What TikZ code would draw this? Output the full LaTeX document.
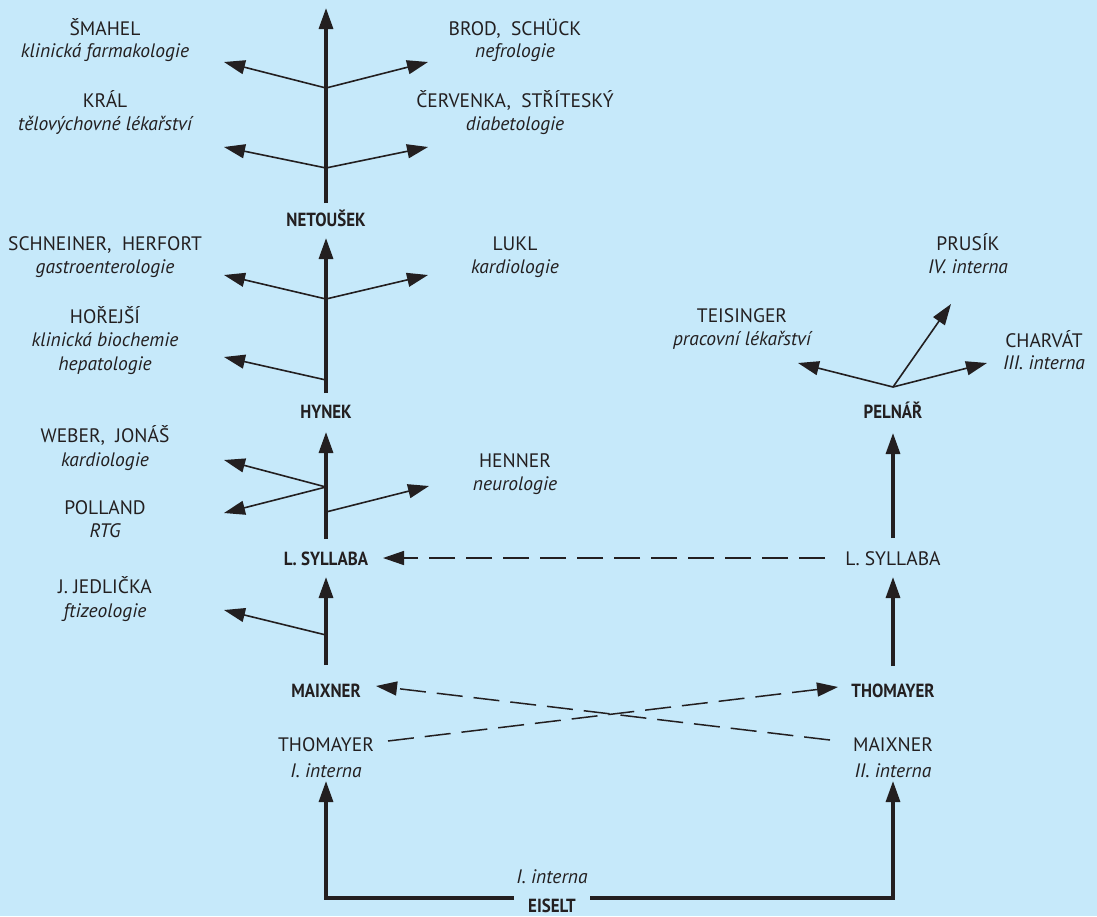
\documentclass[tikz,border=0pt]{standalone}
\usepackage{fontspec}
\setmainfont{PT Sans}
\newfontfamily\condfont[FakeStretch=0.89]{PT Sans}
\usetikzlibrary{arrows.meta}
\definecolor{bg}{RGB}{198,233,250}
\definecolor{ink}{RGB}{35,31,32}
\begin{document}
\begin{tikzpicture}[x=1pt,y=-1pt,
  every node/.style={inner sep=0pt,anchor=base,text=ink,font=\fontsize{19.5}{22}\selectfont},
  nm/.style={},
  sub/.style={font=\fontsize{19.5}{22}\selectfont\itshape},
  bnm/.style={font=\fontsize{19}{22}\selectfont\condfont\bfseries},
  tip/.style={-{Triangle[length=21pt,width=14pt]}},
  spine/.style={tip,line width=3.2pt,draw=ink,color=ink},
  branch/.style={tip,line width=1.6pt,draw=ink,color=ink},
  dashar/.style={tip,line width=1.5pt,draw=ink,color=ink,dash pattern=on 26pt off 11pt},
  trunk/.style={tip,line width=3.2pt,draw=ink,color=ink}
]
\useasboundingbox (0,0) rectangle (1097,916);
\fill[bg] (0,0) rectangle (1097,916);

% ---- labels, left tree ----
\node[nm]  (smahel)  at (105,35)  {ŠMAHEL};
\node[sub] (smahelS) at (105,57)  {klinická farmakologie};
\node[nm]  (kral)    at (105,107) {KRÁL};
\node[sub] (kralS)   at (105,130) {tělovýchovné lékařství};
\node[nm]  (brod)    at (515,35)  {BROD,\ \ SCHÜCK};
\node[sub] (brodS)   at (515,57)  {nefrologie};
\node[nm]  (cerv)    at (515,107) {ČERVENKA,\ \ STŘÍTESKÝ};
\node[sub] (cervS)   at (515,130) {diabetologie};
\node[bnm] (netousek) at (326,226) {NETOUŠEK};
\node[nm]  (schn)    at (105,250) {SCHNEINER,\ \ HERFORT};
\node[sub] (schnS)   at (105,273) {gastroenterologie};
\node[nm]  (lukl)    at (515,250) {LUKL};
\node[sub] (luklS)   at (515,273) {kardiologie};
\node[nm]  (horejsi) at (105,323) {HOŘEJŠÍ};
\node[sub] (horS1)   at (105,346) {klinická biochemie};
\node[sub] (horS2)   at (105,370) {hepatologie};
\node[bnm] (hynek)   at (326,418) {HYNEK};
\node[nm]  (weber)   at (105,442) {WEBER,\ \ JONÁŠ};
\node[sub] (weberS)  at (105,466) {kardiologie};
\node[nm]  (polland) at (105,514) {POLLAND};
\node[sub] (pollandS) at (105,537) {RTG};
\node[nm]  (henner)  at (515,467) {HENNER};
\node[sub] (hennerS) at (515,490) {neurologie};
\node[bnm] (lsylB)   at (326,565) {L. SYLLABA};
\node[nm]  (jedl)    at (105,593) {J. JEDLIČKA};
\node[sub] (jedlS)   at (105,617) {ftizeologie};
\node[bnm] (maixB)   at (326,697) {MAIXNER};
\node[nm]  (thomP)   at (326,751) {THOMAYER};
\node[sub] (thomS)   at (326,777) {I. interna};

% ---- labels, right tree ----
\node[nm]  (prusik)  at (968,250) {PRUSÍK};
\node[sub] (prusikS) at (968,273) {IV. interna};
\node[nm]  (teis)    at (742,322) {TEISINGER};
\node[sub] (teisS)   at (742,345) {pracovní lékařství};
\node[nm]  (charvat) at (1044,347) {CHARVÁT};
\node[sub] (charvatS) at (1044,369) {III. interna};
\node[bnm] (pelnar)  at (893,418) {PELNÁŘ};
\node[nm]  (lsylP)   at (893,565) {L. SYLLABA};
\node[bnm] (thomB)   at (893,697) {THOMAYER};
\node[nm]  (maixP)   at (893,751) {MAIXNER};
\node[sub] (maixS)   at (893,777) {II. interna};

% ---- bottom ----
\node[sub] (eiseltS) at (552,883) {I. interna};
\node[bnm] (eiselt)  at (552,912) {EISELT};

% ---- coordinates ----
\coordinate (s1a) at (326,203); \coordinate (s1b) at (326,8);
\coordinate (j1) at (326,88);  \coordinate (t1l) at (224,62);  \coordinate (t1r) at (428,62);
\coordinate (j2) at (326,168); \coordinate (t2l) at (224,147); \coordinate (t2r) at (428,147);
\coordinate (s2a) at (326,393); \coordinate (s2b) at (326,238);
\coordinate (j3) at (326,299); \coordinate (t3l) at (224,275); \coordinate (t3r) at (428,275);
\coordinate (j4) at (326,380); \coordinate (t4l) at (224,357);
\coordinate (s3a) at (326,539); \coordinate (s3b) at (326,432);
\coordinate (j5) at (326,487); \coordinate (t5a) at (224,460); \coordinate (t5b) at (224,513);
\coordinate (j6) at (326,512); \coordinate (t6r) at (429,486);
\coordinate (s4a) at (326,665); \coordinate (s4b) at (326,577);
\coordinate (j7) at (326,635); \coordinate (t7l) at (224,610);
\coordinate (r1a) at (893,538); \coordinate (r1b) at (893,433);
\coordinate (jp) at (893,387); \coordinate (tpl) at (798,363); \coordinate (tpr) at (987,363); \coordinate (tpu) at (951,304);
\coordinate (r2a) at (893,666); \coordinate (r2b) at (893,577);
\coordinate (dsA) at (825,558); \coordinate (dsB) at (383,558);
\coordinate (cxA) at (830,740); \coordinate (cxB) at (376,686);
\coordinate (cyA) at (388,741); \coordinate (cyB) at (838,687);
\coordinate (eL) at (514,898); \coordinate (eR) at (590,898);
\coordinate (bL) at (326,781); \coordinate (bR) at (893,781);

% ---- connectors ----
\draw[spine] (s1a) -- (s1b);
\draw[branch] (j1) -- (t1l); \draw[branch] (j1) -- (t1r);
\draw[branch] (j2) -- (t2l); \draw[branch] (j2) -- (t2r);
\draw[spine] (s2a) -- (s2b);
\draw[branch] (j3) -- (t3l); \draw[branch] (j3) -- (t3r);
\draw[branch] (j4) -- (t4l);
\draw[spine] (s3a) -- (s3b);
\draw[branch] (j5) -- (t5a); \draw[branch] (j5) -- (t5b);
\draw[branch] (j6) -- (t6r);
\draw[spine] (s4a) -- (s4b);
\draw[branch] (j7) -- (t7l);
\draw[spine] (r1a) -- (r1b);
\draw[branch] (jp) -- (tpl); \draw[branch] (jp) -- (tpr); \draw[branch] (jp) -- (tpu);
\draw[spine] (r2a) -- (r2b);
\draw[dashar] (dsA) -- (dsB);
\draw[dashar] (cxA) -- (cxB);
\draw[dashar] (cyA) -- (cyB);
\draw[trunk] (eL) -| (bL);
\draw[trunk] (eR) -| (bR);
\end{tikzpicture}
\end{document}
